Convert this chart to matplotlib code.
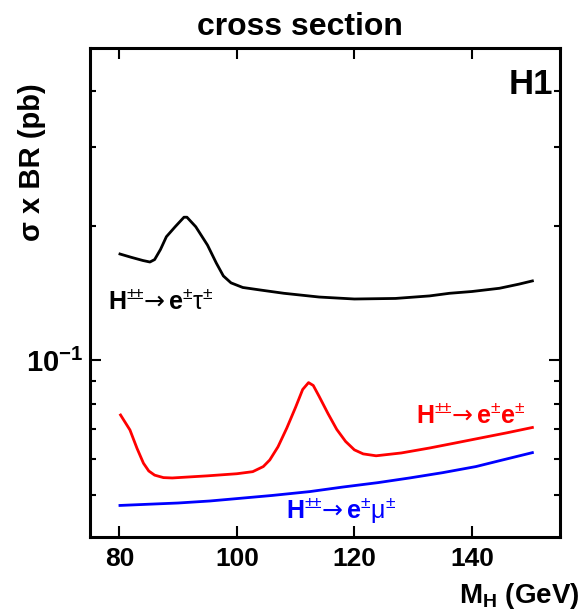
"""
Cross section x BR vs doubly charged Higgs mass (H1), log scale.
"""
import numpy as np
import matplotlib
matplotlib.use('Agg')
import matplotlib.pyplot as plt
from matplotlib.ticker import FixedLocator, NullFormatter

plt.rcParams.update({
    'font.family': ['Liberation Sans', 'DejaVu Sans'],
    'font.weight': 'bold',
    'mathtext.fontset': 'custom',
    'mathtext.rm': 'Liberation Sans:weight=normal',
    'mathtext.it': 'Liberation Sans:italic',
    'mathtext.bf': 'Liberation Sans:bold',
    'mathtext.sf': 'DejaVu Sans:weight=normal',
})

# ===================== DATA =====================
# H++ -> e tau
m_etau = [80.1, 82.0, 84.0, 85.2, 86.0, 87.0, 88.0, 89.5, 91.0, 91.5, 93.0,
          95.0, 96.5, 97.7, 99.0, 101.0, 104.0, 108.0, 114.0, 120.0, 127.0,
          132.8, 136.2, 140.0, 144.7, 148.0, 150.3]
xs_etau = [0.1729, 0.1700, 0.1672, 0.1659, 0.1680, 0.1770, 0.1890, 0.1990,
           0.2090, 0.2090, 0.1990, 0.1810, 0.1650, 0.1544, 0.1490, 0.1455,
           0.1436, 0.1412, 0.1385, 0.1371, 0.1375, 0.1393, 0.1412, 0.1425,
           0.1449, 0.1480, 0.1505]

# H++ -> e e
m_ee = [80.2, 81.8, 83.0, 84.1, 85.0, 86.0, 87.5, 89.0, 95.0, 100.0, 102.7,
        104.5, 105.6, 107.0, 108.5, 110.0, 111.2, 112.2, 113.0, 114.0, 115.5,
        117.0, 118.5, 120.0, 121.5, 123.7, 128.0, 132.8, 137.0, 141.3, 146.0,
        150.3]
xs_ee = [0.0754, 0.0698, 0.0635, 0.0588, 0.0565, 0.0553, 0.0546, 0.0545,
         0.0551, 0.0557, 0.0563, 0.0578, 0.0598, 0.0640, 0.0705, 0.0785,
         0.0860, 0.0891, 0.0878, 0.0830, 0.0760, 0.0700, 0.0658, 0.0630,
         0.0617, 0.0611, 0.0620, 0.0636, 0.0652, 0.0669, 0.0688, 0.0707]

# H++ -> e mu
m_emu = [80.1, 85.0, 90.0, 95.4, 100.0, 106.0, 112.4, 118.0, 124.0, 129.4,
         135.0, 140.7, 145.0, 150.3]
xs_emu = [0.0473, 0.0476, 0.0479, 0.0484, 0.0490, 0.0498, 0.0508, 0.0520,
          0.0532, 0.0545, 0.0560, 0.0578, 0.0597, 0.0621]

x_ticks = [80, 100, 120, 140]
y_minor = [0.05, 0.06, 0.07, 0.08, 0.09, 0.2, 0.3, 0.4]

# ===================== FIGURE =====================
fig = plt.figure(figsize=(5.87, 6.12), dpi=100)
ax = fig.add_axes([90/587, 1 - 537/612, 470/587, 489/612])

ax.plot(m_etau, xs_etau, color='black', lw=2.0)
ax.plot(m_ee, xs_ee, color='#ff0000', lw=2.0)
ax.plot(m_emu, xs_emu, color='#0000ff', lw=2.0)

ax.set_yscale('log')
ax.set_xlim(75, 155)
ax.set_ylim(0.0402, 0.5)

ax.xaxis.set_major_locator(FixedLocator(x_ticks))
ax.yaxis.set_major_locator(FixedLocator([0.1]))
ax.yaxis.set_minor_locator(FixedLocator(y_minor))
ax.yaxis.set_minor_formatter(NullFormatter())
ax.set_yticklabels([r'$\mathbf{10^{-1}}$'])
ax.xaxis.set_minor_locator(FixedLocator([]))

ax.tick_params(which='both', direction='in', top=True, right=True, width=1.5)
ax.tick_params(which='major', length=8)
ax.tick_params(which='minor', length=4.5)
ax.tick_params(axis='x', labelsize=19, pad=7)
ax.tick_params(axis='y', labelsize=21, pad=5)
for lab in ax.get_xticklabels():
    lab.set_fontweight('bold')
for sp in ax.spines.values():
    sp.set_linewidth(2.2)

# curve labels
head = r'$\mathbf{H}^{\pm\!\!\pm}\!\mathsf{→}\,'
ax.text(78.06, 0.1302, head + r'\mathbf{e}^{\pm}\mathrm{\tau}^{\pm}$',
        fontsize=18, color='black', ha='left', va='baseline')
ax.text(130.5, 0.0724, head + r'\mathbf{e}^{\pm}\mathbf{e}^{\pm}$',
        fontsize=18, color='#ff0000', ha='left', va='baseline')
ax.text(108.4, 0.0444, head + r'\mathbf{e}^{\pm}\mathrm{\mu}^{\pm}$',
        fontsize=18, color='#0000ff', ha='left', va='baseline')

ax.text(0.985, 0.905, 'H1', transform=ax.transAxes, fontsize=25,
        fontweight='bold', ha='right', va='baseline')

fig.text(300/587, 1 - 35/612, 'cross section', fontsize=23, fontweight='bold',
         ha='center', va='baseline')
fig.text(32/587, 1 - 162/612, 'σ x BR (pb)', fontsize=21, fontweight='bold',
         rotation=90, ha='center', va='center')
fig.text(580/587, 1 - 603/612, r'$\mathbf{M}_{\mathbf{H}}$ (GeV)', fontsize=20,
         fontweight='bold', ha='right', va='baseline')

fig.savefig('out.png', dpi=100)
